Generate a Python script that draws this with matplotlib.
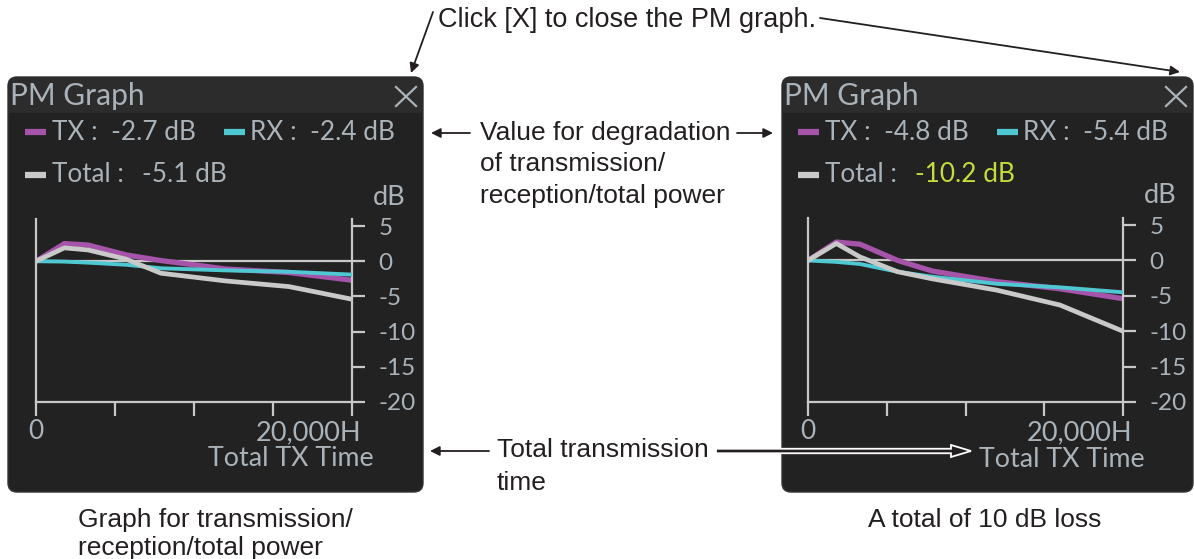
import matplotlib
matplotlib.use('Agg')
import matplotlib.pyplot as plt
from matplotlib.patches import FancyBboxPatch, Rectangle, FancyArrow

# ---------------- data ----------------
hours = [0, 1800, 3300, 5700, 7900, 12000, 16000, 20000]
left_tx = [0, 2.5, 2.3, 0.9, 0.1, -1.1, -1.6, -2.7]
left_rx = [0, -0.05, -0.2, -0.5, -1.0, -1.3, -1.5, -1.9]
left_total = [0, 1.9, 1.6, 0.3, -1.7, -2.8, -3.6, -5.4]
right_tx = [0, 2.6, 2.3, 0.0, -1.5, -3.0, -4.0, -5.4]
right_rx = [0, -0.2, -0.5, -1.6, -2.3, -3.3, -3.8, -4.5]
right_total = [0, 2.4, 0.5, -1.6, -2.6, -4.2, -6.3, -10.0]
left_readout = ['-2.7', '-2.4', '-5.1']
right_readout = ['-4.8', '-5.4', '-10.2']
y_ticks = [5, 0, -5, -10, -15, -20]
y_tick_labels = ['5', '0', '-5', '-10', '-15', '-20']
x_ticks = [0, 5000, 10000, 15000, 20000]
x_tick_labels = ['0', '', '', '', '']
x_end_label = '20,000H'
x_title = 'Total TX Time'

W, H = 1194, 559
PANEL_FONT = ['Lato', 'DejaVu Sans']
ANN_FONT = ['Liberation Sans', 'DejaVu Sans']
C_TX = '#a653aa'
C_RX = '#4fc8d2'
C_TOT = '#c9c9c9'
C_AX = '#c8c8c8'
C_TXT = '#aab3ba'
C_BODY = '#222222'
C_TITLE = '#2c2c2c'

fig = plt.figure(figsize=(W / 100, H / 100), dpi=100)
fig.patch.set_facecolor('white')
ov = fig.add_axes([0, 0, 1, 1])
ov.set_xlim(0, W)
ov.set_ylim(H, 0)
ov.axis('off')


def panel(x0, y0, x1, y1):
    box = FancyBboxPatch((x0, y0), x1 - x0, y1 - y0,
                         boxstyle='round,pad=0,rounding_size=9',
                         fc=C_BODY, ec='#333333', lw=1, zorder=1)
    ov.add_patch(box)
    band = Rectangle((x0, y0), x1 - x0, 36, fc=C_TITLE, ec='none', zorder=1.1)
    ov.add_patch(band)
    band.set_clip_path(box)
    ov.text(x0 + 2, y0 + 19, 'PM Graph', fontsize=21.5, color=C_TXT,
            family=PANEL_FONT, va='center', ha='left', zorder=3)
    # close "X"
    cx = x1 - 17
    ov.plot([cx - 10, cx + 10], [y0 + 10, y0 + 29], color=C_TXT, lw=1.6, zorder=3)
    ov.plot([cx - 10, cx + 10], [y0 + 29, y0 + 10], color=C_TXT, lw=1.6, zorder=3)


def readout(x0, vals, total_color):
    y1, y2 = 132, 175
    fs = 18.8
    ov.plot([x0, x0 + 21], [y1, y1], color=C_TX, lw=4.5, solid_capstyle='butt', zorder=3)
    ov.text(x0 + 27, y1, f'TX :  {vals[0]} dB', fontsize=fs, color=C_TXT,
            family=PANEL_FONT, va='center', ha='left', zorder=3)
    ov.plot([x0 + 199, x0 + 220], [y1, y1], color=C_RX, lw=4.5, solid_capstyle='butt', zorder=3)
    ov.text(x0 + 225, y1, f'RX :  {vals[1]} dB', fontsize=fs, color=C_TXT,
            family=PANEL_FONT, va='center', ha='left', zorder=3)
    ov.plot([x0, x0 + 21], [y2, y2], color=C_TOT, lw=4.5, solid_capstyle='butt', zorder=3)
    ov.text(x0 + 27, y2, 'Total :', fontsize=fs, color=C_TXT,
            family=PANEL_FONT, va='center', ha='left', zorder=3)
    ov.text(x0 + 27 + 90, y2, f'{vals[2]} dB', fontsize=fs, color=total_color,
            family=PANEL_FONT, va='center', ha='left', zorder=3)


def make_plot(px0, px1, py_top, py_bot, tx, rx, total):
    ax = fig.add_axes([px0 / W, (H - py_bot) / H, (px1 - px0) / W, (py_bot - py_top) / H])
    ax.set_facecolor('none')
    ax.set_zorder(5)
    ax.set_xlim(0, 20000)
    ax.set_ylim(-20, 6)
    ax.axhline(0, color=C_AX, lw=1.6, zorder=1)
    ax.plot(hours, tx, color=C_TX, lw=3.8, zorder=2)
    ax.plot(hours, rx, color=C_RX, lw=2.8, zorder=3)
    ax.plot(hours, total, color=C_TOT, lw=3.4, zorder=4)
    for s in ('left', 'right', 'bottom'):
        ax.spines[s].set_color(C_AX)
        ax.spines[s].set_linewidth(1.6)
    ax.spines['top'].set_visible(False)
    ax.yaxis.tick_right()
    ax.set_yticks(y_ticks)
    ax.set_yticklabels(y_tick_labels)
    ax.set_xticks(x_ticks)
    ax.set_xticklabels(x_tick_labels)
    ax.tick_params(axis='y', direction='out', length=9, width=1.6, color=C_AX,
                   labelcolor=C_TXT, labelsize=17.5, pad=10)
    ax.tick_params(axis='x', direction='out', length=10, width=1.6, color=C_AX,
                   labelcolor=C_TXT, labelsize=19, pad=2)
    for lab in ax.get_xticklabels() + ax.get_yticklabels():
        lab.set_family(PANEL_FONT)
    ax.text(1.066, 1.12, 'dB', transform=ax.transAxes, fontsize=19.5, color=C_TXT,
            family=PANEL_FONT, ha='left', va='center')
    ax.text(1.03, -0.17, x_end_label, transform=ax.transAxes, fontsize=19.5, color=C_TXT,
            family=PANEL_FONT, ha='right', va='center')
    ax.text(1.07, -0.31, x_title, transform=ax.transAxes, fontsize=19.3, color=C_TXT,
            family=PANEL_FONT, ha='right', va='center')
    return ax


# left panel
panel(8, 77, 423, 492)
readout(25, left_readout, C_TXT)
make_plot(36, 352, 219, 402, left_tx, left_rx, left_total)

# right panel
panel(782, 77, 1193, 492)
readout(798, right_readout, '#c6dc3a')
make_plot(808, 1123, 218, 402, right_tx, right_rx, right_total)

# ---------------- annotations ----------------
AC = '#231f20'
ov.text(438, 20, 'Click [X] to close the PM graph.', fontsize=19.5, color=AC,
        family=ANN_FONT, ha='left', va='center')
arw = dict(arrowstyle='-|>', color=AC, lw=1.3, mutation_scale=14, shrinkA=0, shrinkB=0)
ov.annotate('', xy=(411, 73), xytext=(433, 12), arrowprops=arw)
ov.annotate('', xy=(1180, 72), xytext=(820, 18), arrowprops=arw)

ov.text(480, 133, 'Value for degradation', fontsize=19, color=AC, family=ANN_FONT,
        ha='left', va='center')
ov.text(480, 164, 'of transmission/', fontsize=19, color=AC, family=ANN_FONT,
        ha='left', va='center')
ov.text(480, 196, 'reception/total power', fontsize=19, color=AC, family=ANN_FONT,
        ha='left', va='center')
ov.annotate('', xy=(431, 133), xytext=(470, 133), arrowprops=arw)
ov.annotate('', xy=(773, 133), xytext=(737, 133), arrowprops=arw)

ov.text(497, 450, 'Total transmission', fontsize=19, color=AC, family=ANN_FONT,
        ha='left', va='center')
ov.text(497, 483, 'time', fontsize=19, color=AC, family=ANN_FONT,
        ha='left', va='center')
ov.annotate('', xy=(430, 451), xytext=(489, 451), arrowprops=arw)
ov.add_patch(FancyArrow(716, 451, 255, 0, width=4.5, head_width=12, head_length=20,
                        length_includes_head=True, fc=AC, ec='white', lw=1.3, zorder=6))

ov.text(78, 520, 'Graph for transmission/', fontsize=19, color=AC, family=ANN_FONT,
        ha='left', va='center')
ov.text(78, 548, 'reception/total power', fontsize=19, color=AC, family=ANN_FONT,
        ha='left', va='center')
ov.text(985, 520, 'A total of 10 dB loss', fontsize=19, color=AC, family=ANN_FONT,
        ha='center', va='center')

fig.savefig('out.png', dpi=100)
